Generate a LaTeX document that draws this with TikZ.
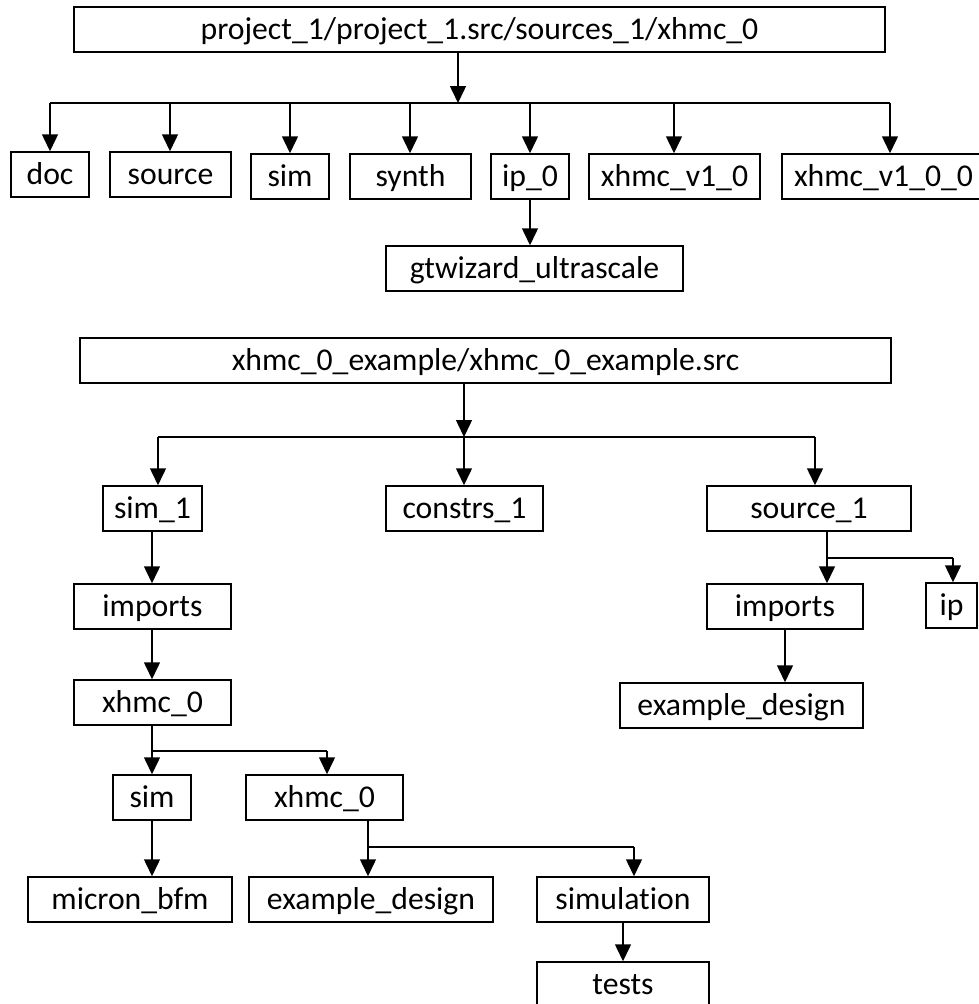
\documentclass[tikz,border=0pt]{standalone}
\usepackage{fontspec}
\setmainfont{Carlito}[Ligatures={NoCommon}]
\usetikzlibrary{arrows.meta}

\begin{document}
\begin{tikzpicture}[x=1pt,y=-1pt,
  box/.style={draw=black, line width=1.5pt, fill=white, inner sep=0pt,
    minimum height=45pt, text height=20pt, text depth=0pt,
    font=\fontsize{31.7}{36}\selectfont},
  link/.style={line width=1.5pt},
  arr/.style={line width=1.5pt, -{Triangle[length=17pt,width=16pt]}}]
\useasboundingbox (0,0) rectangle (979,1004);
\clip (0,0) rectangle (979,1004);

% ---------- first tree ----------
\node[box, minimum width=811pt] (top) at (479.5,29.5) {project\_1/project\_1.src/sources\_1/xhmc\_0};
\node[box, minimum width=78pt]  (doc)   at (50,174.5)   {doc};
\node[box, minimum width=121pt] (source) at (170.5,174.5) {source};
\node[box, minimum width=78pt]  (sim)   at (290,176.5)  {sim};
\node[box, minimum width=121pt] (synth) at (410.5,176.5) {synth};
\node[box, minimum width=78pt]  (ipz)   at (530,176.5)  {ip\_0};
\node[box, minimum width=171pt] (xva)   at (674.5,176.5) {xhmc\_v1\_0};
\node[box, minimum width=203pt] (xvb)   at (883.5,176.5) {xhmc\_v1\_0\_0};
\node[box, minimum width=297pt] (gtw)   at (534.5,268.5) {gtwizard\_ultrascale};

\coordinate (ta) at (458,103);
\coordinate (tl) at (50,103);
\coordinate (tr) at (890,103);
\draw[arr] (top.south -| ta) -- (ta);
\draw[link] (tl) -- (tr);
\foreach \n/\x in {doc/50, source/170, sim/290, synth/410, ipz/530, xva/674, xvb/890}
  \draw[arr] (\x,103) -- (\n.north -| \x,0);
\draw[arr] (ipz.south) -- (gtw.north -| ipz.south);

% ---------- second tree ----------
\node[box, minimum width=811pt] (ex) at (485.5,360.5) {xhmc\_0\_example/xhmc\_0\_example.src};
\node[box, minimum width=99pt]  (simone) at (152.5,508.5) {sim\_1};
\node[box, minimum width=157pt] (constrs) at (464.5,508.5) {constrs\_1};
\node[box, minimum width=204pt] (srcone) at (809,508.5) {source\_1};

\coordinate (ea) at (464,437);
\coordinate (el) at (158,437);
\coordinate (er) at (815,437);
\draw[arr] (ex.south -| ea) -- (ea);
\draw[link] (el) -- (er);
\draw[arr] (el) -- (simone.north -| el);
\draw[arr] (ea) -- (constrs.north -| ea);
\draw[arr] (er) -- (srcone.north -| er);

% left branch
\node[box, minimum width=157pt] (impa) at (152.5,606.5) {imports};
\node[box, minimum width=157pt] (xha)  at (152.5,702.5) {xhmc\_0};
\node[box, minimum width=78pt]  (simb) at (152,797.5)   {sim};
\node[box, minimum width=157pt] (xhb)  at (324.5,797.5) {xhmc\_0};
\node[box, minimum width=204pt] (micron) at (130,899.5) {micron\_bfm};
\node[box, minimum width=244pt] (exda) at (371,899.5)   {example\_design};
\node[box, minimum width=172pt] (simu) at (623,899.5)   {simulation};
\node[box, minimum width=172pt] (tests) at (623,984.5)  {tests};

\coordinate (sa) at (152,531);
\draw[arr] (simone.south -| sa) -- (impa.north -| sa);
\draw[arr] (impa.south -| sa) -- (xha.north -| sa);

\coordinate (xa) at (152,751);
\coordinate (xb) at (327,751);
\draw[arr] (xha.south -| xa) -- (simb.north -| xa);
\draw[link] (xa) -- (xb);
\draw[arr] (xb) -- (xhb.north -| xb);
\draw[arr] (simb.south -| xa) -- (micron.north -| xa);

\coordinate (ya) at (368,847);
\coordinate (yb) at (634,847);
\draw[arr] (xhb.south -| ya) -- (exda.north -| ya);
\draw[link] (ya) -- (yb);
\draw[arr] (yb) -- (simu.north -| yb);
\draw[arr] (simu.south) -- (tests.north);

% right branch
\node[box, minimum width=156pt] (impb) at (785,606.5)  {imports};
\node[box, minimum width=51pt]  (ip)   at (951.5,605.5) {ip};
\node[box, minimum width=243pt] (exdb) at (741.5,705.5) {example\_design};

\coordinate (za) at (827,558);
\coordinate (zb) at (953,558);
\draw[arr] (srcone.south -| za) -- (impb.north -| za);
\draw[link] (za) -- (zb);
\draw[arr] (zb) -- (ip.north -| zb);
\draw[arr] (impb.south -| 785,0) -- (exdb.north -| 785,0);
\end{tikzpicture}
\end{document}
